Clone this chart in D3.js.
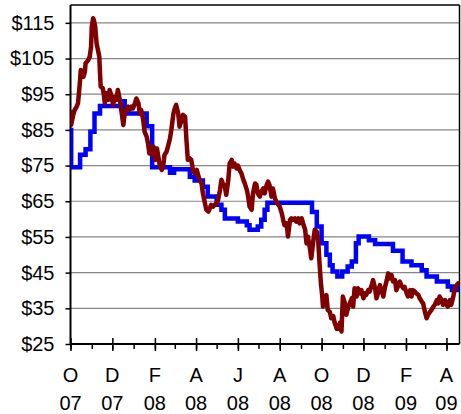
<!DOCTYPE html>
<html><head><meta charset="utf-8">
<script src="https://cdn.jsdelivr.net/npm/d3@7"></script>
<style>body{margin:0;background:#fff}svg{display:block}</style>
</head><body><svg id="c" width="461" height="414"></svg>
<script>
// Step series (blue)
const stepSeries = [
["2007-10-01",85],["2007-10-02",74.5],["2007-10-15",78],["2007-10-23",79.6],["2007-10-30",84.5],
["2007-11-05",89.6],["2007-11-13",91.7],["2007-12-13",93],["2007-12-19",89.6],["2008-01-20",86],
["2008-01-28",74.5],["2008-02-23",73],["2008-02-29",74],["2008-03-23",71.9],["2008-03-30",70.8],
["2008-04-11",69.1],["2008-04-18",66.3],["2008-05-01",64],["2008-05-08",62.6],["2008-05-13",60.2],
["2008-06-01",59.3],["2008-06-14",58.3],["2008-06-18",57],["2008-06-30",57.9],["2008-07-05",59.8],
["2008-07-10",62.6],["2008-07-14",64.6],["2008-09-17",62],["2008-09-24",57.9],["2008-10-01",53.2],
["2008-10-08",50],["2008-10-13",47.1],["2008-10-17",45.3],["2008-10-24",43.9],["2008-10-31",45.3],
["2008-11-08",46.7],["2008-11-14",48.1],["2008-11-20",53.2],["2008-11-24",55.1],["2008-12-09",54.1],
["2008-12-18",53],["2009-01-13",51.1],["2009-01-27",48.1],["2009-02-09",47.1],["2009-02-24",45.7],
["2009-03-03",43.9],["2009-03-18",42.5],["2009-04-03",41.1],["2009-04-09",40.1],["2009-04-16",41.1],
["2009-04-20",41.1]
];
// Daily series (maroon)
const dailySeries = [
["2007-10-01",90.6],["2007-10-02",86.4],["2007-10-05",89.2],["2007-10-07",90.6],["2007-10-10",91.5],
["2007-10-12",92.5],["2007-10-15",99],["2007-10-16",101.8],["2007-10-18",101.3],["2007-10-20",99.9],
["2007-10-22",101.3],["2007-10-23",103.7],["2007-10-27",104.6],["2007-10-29",105.5],["2007-10-31",108.3],
["2007-11-01",113.9],["2007-11-03",116.3],["2007-11-04",115.8],["2007-11-06",113.9],["2007-11-08",109.3],
["2007-11-10",107.4],["2007-11-12",105.5],["2007-11-13",100.9],["2007-11-14",97.1],["2007-11-17",96.7],
["2007-11-19",94.3],["2007-11-20",92.5],["2007-11-22",95.3],["2007-11-25",93.4],["2007-11-27",96.2],
["2007-11-30",94.3],["2007-12-02",92],["2007-12-05",94.3],["2007-12-07",93.4],["2007-12-09",96.2],
["2007-12-12",93.4],["2007-12-14",90.6],["2007-12-17",86.4],["2007-12-19",89.6],["2007-12-22",91],
["2007-12-24",91.5],["2007-12-26",90.6],["2007-12-29",91.5],["2007-12-31",91],["2008-01-03",92.5],
["2008-01-05",93.8],["2008-01-08",92.5],["2008-01-10",89.6],["2008-01-12",90.6],["2008-01-15",87.8],
["2008-01-17",84.5],["2008-01-20",83.1],["2008-01-22",81.2],["2008-01-24",78.4],["2008-01-26",80.3],
["2008-01-29",78],["2008-01-30",80.3],["2008-02-02",76.6],["2008-02-04",79.8],["2008-02-06",77.5],
["2008-02-08",75.2],["2008-02-11",73.8],["2008-02-13",74.7],["2008-02-15",78],["2008-02-18",78.9],
["2008-02-20",80.3],["2008-02-23",82.6],["2008-02-25",85],["2008-02-28",89.6],["2008-03-01",91],
["2008-03-03",92],["2008-03-06",89.6],["2008-03-08",85.9],["2008-03-11",87.8],["2008-03-13",89.2],
["2008-03-16",88.7],["2008-03-18",82.2],["2008-03-20",76.6],["2008-03-23",77],["2008-03-25",76.6],
["2008-03-28",73.3],["2008-03-30",72.9],["2008-04-02",73.8],["2008-04-04",72.4],["2008-04-06",71],
["2008-04-09",70],["2008-04-11",67.2],["2008-04-14",64.4],["2008-04-16",62.6],["2008-04-19",62.1],
["2008-04-21",63],["2008-04-23",64],["2008-04-26",63.5],["2008-04-28",64],["2008-05-01",64.4],
["2008-05-03",65.3],["2008-05-06",68.2],["2008-05-08",71],["2008-05-10",70],["2008-05-13",69.1],
["2008-05-15",66.8],["2008-05-18",71],["2008-05-20",75.6],["2008-05-23",76.6],["2008-05-25",74.7],
["2008-05-27",75.6],["2008-05-30",74.2],["2008-06-01",75],["2008-06-04",73.5],["2008-06-06",72.9],
["2008-06-09",71],["2008-06-11",70],["2008-06-14",68.2],["2008-06-16",66.3],["2008-06-18",63.5],
["2008-06-21",62.6],["2008-06-23",67.2],["2008-06-26",70],["2008-06-28",69.6],["2008-06-30",67.2],
["2008-07-03",66.3],["2008-07-05",67.7],["2008-07-08",68.6],["2008-07-10",67.2],["2008-07-13",69.6],
["2008-07-15",70.5],["2008-07-17",69.6],["2008-07-20",66.3],["2008-07-22",68.6],["2008-07-25",65.8],
["2008-07-27",64.9],["2008-07-30",64],["2008-08-01",63.5],["2008-08-04",61.6],["2008-08-06",59.8],
["2008-08-08",58.3],["2008-08-11",58.8],["2008-08-13",55.1],["2008-08-16",59.8],["2008-08-18",60.2],
["2008-08-20",59.8],["2008-08-23",60.2],["2008-08-25",59.3],["2008-08-28",60.2],["2008-08-30",58.8],
["2008-09-02",60.2],["2008-09-04",58.8],["2008-09-07",57],["2008-09-09",53.2],["2008-09-11",55.1],
["2008-09-14",51.8],["2008-09-16",49],["2008-09-19",54.1],["2008-09-21",57],["2008-09-24",56.5],
["2008-09-26",54.1],["2008-09-28",47.6],["2008-09-30",42],["2008-10-02",38.3],["2008-10-03",35.5],
["2008-10-06",37.3],["2008-10-08",38.7],["2008-10-10",34.5],["2008-10-13",34],["2008-10-15",32.2],
["2008-10-18",32.8],["2008-10-20",31],["2008-10-23",29.3],["2008-10-25",29.3],["2008-10-28",31],
["2008-10-30",28.5],["2008-11-01",38.3],["2008-11-04",36.4],["2008-11-06",33.2],["2008-11-09",35.5],
["2008-11-11",36.4],["2008-11-14",37.8],["2008-11-16",35.5],["2008-11-18",40.6],["2008-11-21",38.3],
["2008-11-23",40.6],["2008-11-26",39.2],["2008-11-28",40.1],["2008-12-01",37.8],["2008-12-03",39.2],
["2008-12-05",38.8],["2008-12-08",40.1],["2008-12-10",39.7],["2008-12-13",41.5],["2008-12-15",42.9],
["2008-12-18",40.6],["2008-12-20",37.8],["2008-12-22",39.2],["2008-12-25",41.5],["2008-12-27",40.1],
["2008-12-30",38.3],["2009-01-01",40.6],["2009-01-04",42.9],["2009-01-06",44.8],["2009-01-08",43.4],
["2009-01-11",44.3],["2009-01-13",42.5],["2009-01-16",42.9],["2009-01-18",40.1],["2009-01-21",41.5],
["2009-01-23",42.5],["2009-01-25",41.5],["2009-01-28",40.6],["2009-01-30",41],["2009-02-02",39.2],
["2009-02-04",38.3],["2009-02-07",40.1],["2009-02-09",38.3],["2009-02-11",40.1],["2009-02-14",39.7],
["2009-02-16",39.2],["2009-02-19",38.8],["2009-02-21",37.8],["2009-02-24",36.9],["2009-02-26",36.4],
["2009-02-28",34.5],["2009-03-03",32.2],["2009-03-05",33.1],["2009-03-08",34],["2009-03-10",34.5],
["2009-03-13",35.5],["2009-03-15",36],["2009-03-18",37.3],["2009-03-20",36.4],["2009-03-22",38.3],
["2009-03-25",37.3],["2009-03-27",36],["2009-03-30",37.3],["2009-04-01",36],["2009-04-03",35.5],
["2009-04-06",37.3],["2009-04-08",36],["2009-04-11",38.3],["2009-04-13",40.6],["2009-04-16",41.5],
["2009-04-18",42],["2009-04-20",42]
];
const yTicks = [25,35,45,55,65,75,85,95,105,115];
const tickDates = ["2007-10-01","2007-12-01","2008-02-01","2008-04-01","2008-06-01","2008-08-01","2008-10-01","2008-12-01","2009-02-01","2009-04-01"];
const monthLabels = ["O","D","F","A","J","A","O","D","F","A"];
const yearLabels = ["07","07","08","08","08","08","08","08","09","09"];
const xStart = "2007-10-01", xEnd = "2009-04-20";

const parse = d3.utcParse("%Y-%m-%d");
const L = 70.5, R = 459.5, T = 5, B = 344;
const x = d3.scaleUtc().domain([parse(xStart), parse(xEnd)]).range([L, R]);
const y = d3.scaleLinear().domain([25, 120]).range([B, T]);
const svg = d3.select("#c");
const font = "'Liberation Sans', Arial, sans-serif";

// gridlines
svg.append("g").selectAll("line").data(yTicks.filter(v => v > 25)).join("line")
  .attr("x1", L).attr("x2", R).attr("y1", d => y(d)).attr("y2", d => y(d))
  .attr("stroke", "#868686").attr("stroke-width", 1.2);

// frame top/right
svg.append("line").attr("x1", L).attr("x2", R).attr("y1", T).attr("y2", T).attr("stroke", "#000").attr("stroke-width", 1.5);
svg.append("line").attr("x1", R).attr("x2", R).attr("y1", T).attr("y2", B).attr("stroke", "#000").attr("stroke-width", 1.5);

// y axis
const yAxis = svg.append("g").attr("transform", `translate(${L},0)`)
  .call(d3.axisLeft(y).tickValues(yTicks).tickSize(5).tickPadding(11).tickFormat(d => "$" + d));
yAxis.select(".domain").attr("stroke", "#000").attr("stroke-width", 2).attr("d", `M0,${T}V${B}`);
yAxis.selectAll(".tick line").attr("stroke", "#000").attr("stroke-width", 1.5);
yAxis.selectAll(".tick text").attr("font-family", font).attr("font-size", 20).attr("fill", "#000");

// x axis: monthly minor ticks
const months = d3.utcMonth.range(parse(xStart), parse(xEnd));
const xAxisMinor = svg.append("g").attr("transform", `translate(0,${B})`)
  .call(d3.axisBottom(x).tickValues(months).tickSize(5).tickFormat(""));
xAxisMinor.select(".domain").remove();
xAxisMinor.selectAll(".tick line").attr("stroke", "#000").attr("stroke-width", 1.5);
const major = tickDates.map(parse);
const xAxis = svg.append("g").attr("transform", `translate(0,${B})`)
  .call(d3.axisBottom(x).tickValues(major).tickSizeInner(6).tickSizeOuter(0).tickFormat(""));
xAxis.select(".domain").attr("stroke", "#000").attr("stroke-width", 2).attr("d", `M${L},0H${R}`);
xAxis.selectAll(".tick line").attr("stroke", "#000").attr("stroke-width", 1.5).attr("y1", -6).attr("y2", 7);

// x labels
const lab = svg.append("g").attr("font-family", font).attr("font-size", 20).attr("text-anchor", "middle");
lab.selectAll("text.m").data(major).join("text").attr("class", "m")
  .attr("x", d => x(d)).attr("y", 382).text((d, i) => monthLabels[i]);
lab.selectAll("text.yr").data(major).join("text").attr("class", "yr")
  .attr("x", d => x(d)).attr("y", 410).text((d, i) => yearLabels[i]);

// lines
const clip = svg.append("clipPath").attr("id", "clp").append("rect")
  .attr("x", L).attr("y", T).attr("width", R - L + 1).attr("height", B - T);
const g = svg.append("g").attr("clip-path", "url(#clp)");
g.append("path").datum(stepSeries)
  .attr("d", d3.line().x(d => x(parse(d[0]))).y(d => y(d[1])).curve(d3.curveStepAfter))
  .attr("fill", "none").attr("stroke", "#0000ff").attr("stroke-width", 4.5).attr("stroke-linejoin", "miter");
g.append("path").datum(dailySeries)
  .attr("d", d3.line().x(d => x(parse(d[0]))).y(d => y(d[1])))
  .attr("fill", "none").attr("stroke", "#800000").attr("stroke-width", 4.5).attr("stroke-linejoin", "round");
</script>
</body></html>
